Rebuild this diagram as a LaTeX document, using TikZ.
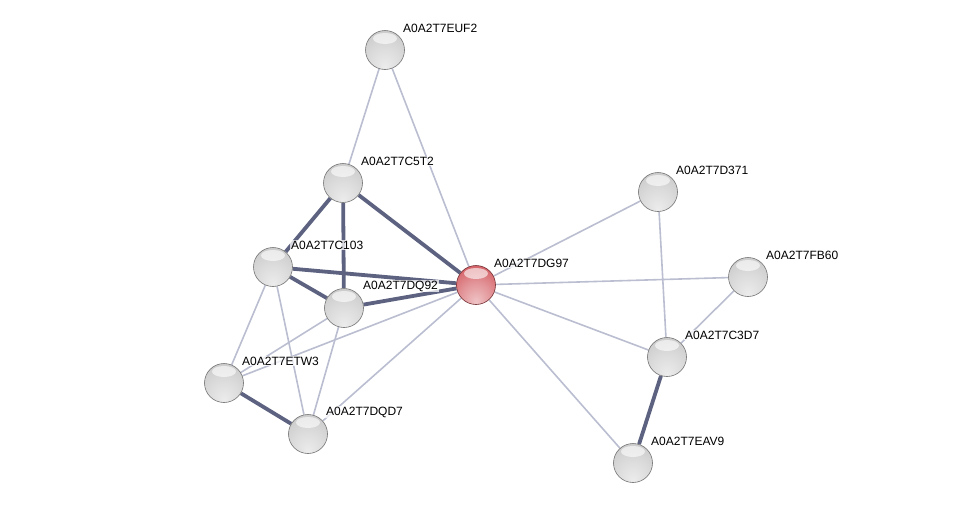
\documentclass[tikz,border=0pt]{standalone}
\usepackage{fontspec}
\setmainfont{Liberation Sans}
\usetikzlibrary{backgrounds,positioning}

\definecolor{edgestrong}{RGB}{92,98,128}
\definecolor{edgeweak}{RGB}{186,190,208}
\definecolor{protgray}{RGB}{200,200,200}
\definecolor{protred}{RGB}{210,88,94}

% glossy sphere, colour taken from protcol
\colorlet{protcol}{protgray}
\pgfdeclareradialshading[protcol]{sphere}{\pgfpoint{0bp}{-22bp}}{%
  color(0bp)=(protcol!35!white); color(20bp)=(protcol!65!white);
  color(40bp)=(protcol); color(58bp)=(protcol!88!black); color(72bp)=(protcol!72!black)}

\tikzset{
  prot/.style={circle, minimum size=39pt, inner sep=0pt, shading=sphere,
    sphere color=protgray, draw=gray!90!black, line width=0.6pt,
    path picture={\fill[white, opacity=0.6] ([yshift=-8pt]path picture bounding box.north)
      ellipse (12pt and 5.5pt);}},
  query/.style={prot, sphere color=protred, draw=protred!55!black},
  sphere color/.code={\colorlet{protcol}{#1}},
  lbl/.style={font=\fontsize{12}{14}\selectfont, anchor=west, fill=white,
    fill opacity=0.75, text opacity=1, inner sep=1pt},
  weak/.style={draw=edgeweak, line width=1.6pt},
  strong/.style={draw=edgestrong, line width=3.8pt},
}

\begin{document}
\begin{tikzpicture}[x=1pt, y=-1pt]
		\useasboundingbox (0,0) rectangle (976,509);

		% Proteins
		\node[prot] (euf2) at (385,50) {};
		\node[prot] (c5t2) at (343,183) {};
		\node[prot] (c103) at (273,267) {};
		\node[prot] (dq92) at (344,308) {};
		\node[query] (dg97) at (476,285) {};
		\node[prot] (etw3) at (224,383) {};
		\node[prot] (dqd7) at (308,434) {};
		\node[prot] (d371) at (658,192) {};
		\node[prot] (fb60) at (748,277) {};
		\node[prot] (c3d7) at (667,357) {};
		\node[prot] (eav9) at (633,463) {};

		% Interactions
		\begin{scope}[on background layer]
			\draw[weak] (euf2) -- (c5t2);
			\draw[weak] (euf2) -- (dg97);
			\draw[weak] (c103) -- (etw3);
			\draw[weak] (c103) -- (dqd7);
			\draw[weak] (dq92) -- (etw3);
			\draw[weak] (dq92) -- (dqd7);
			\draw[weak] (etw3) -- (dg97);
			\draw[weak] (dqd7) -- (dg97);
			\draw[weak] (dg97) -- (d371);
			\draw[weak] (dg97) -- (fb60);
			\draw[weak] (dg97) -- (c3d7);
			\draw[weak] (dg97) -- (eav9);
			\draw[weak] (d371) -- (c3d7);
			\draw[weak] (fb60) -- (c3d7);

			\draw[strong] (c5t2) -- (c103);
			\draw[strong] (c5t2) -- (dq92);
			\draw[strong] (c5t2) -- (dg97);
			\draw[strong] (c103) -- (dq92);
			\draw[strong] (c103) -- (dg97);
			\draw[strong] (dq92) -- (dg97);
			\draw[strong] (etw3) -- (dqd7);
			\draw[strong] (c3d7) -- (eav9);
		\end{scope}

		% Labels
		\node[lbl] (teuf2) at ([shift={(17pt,22pt)}]euf2.center) {A0A2T7EUF2};
		\node[lbl] (tc5t2) at ([shift={(17pt,22pt)}]c5t2.center) {A0A2T7C5T2};
		\node[lbl] (tc103) at ([shift={(17pt,22pt)}]c103.center) {A0A2T7C103};
		\node[lbl] (tdq92) at ([shift={(18pt,22pt)}]dq92.center) {A0A2T7DQ92};
		\node[lbl] (tdg97) at ([shift={(17pt,22pt)}]dg97.center) {A0A2T7DG97};
		\node[lbl] (tetw3) at ([shift={(17pt,22pt)}]etw3.center) {A0A2T7ETW3};
		\node[lbl] (tdqd7) at ([shift={(17pt,22pt)}]dqd7.center) {A0A2T7DQD7};
		\node[lbl] (td371) at ([shift={(17pt,22pt)}]d371.center) {A0A2T7D371};
		\node[lbl] (tfb60) at ([shift={(17pt,22pt)}]fb60.center) {A0A2T7FB60};
		\node[lbl] (tc3d7) at ([shift={(17pt,22pt)}]c3d7.center) {A0A2T7C3D7};
		\node[lbl] (teav9) at ([shift={(17pt,22pt)}]eav9.center) {A0A2T7EAV9};
	\end{tikzpicture}
\end{document}
